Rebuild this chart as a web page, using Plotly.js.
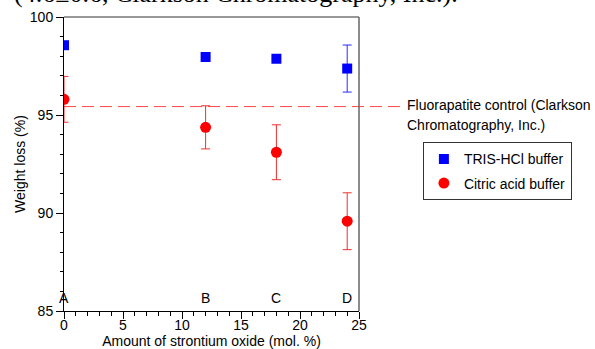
<!DOCTYPE html>
<html>
<head>
<meta charset="utf-8">
<script src="https://cdn.plot.ly/plotly-3.0.1.min.js"></script>
<style>html,body{margin:0;padding:0;background:#fff;}#chart{width:595px;height:349px;}</style>
</head>
<body>
<div id="chart"></div>
<script>
// Data
var strontium = [0, 12, 18, 24];
var sampleLabels = ['A', 'B', 'C', 'D'];
var trisLoss = [98.56, 97.96, 97.87, 97.37];
var trisErr = [0, 0, 0, 1.2];
var citricLoss = [95.80, 94.37, 93.10, 89.58];
var citricErr = [1.17, 1.1, 1.4, 1.45];
var fluorapatiteControl = 95.43;
var seriesNames = ['TRIS-HCl buffer', 'Citric acid buffer'];
var controlLabel = ['Fluorapatite control (Clarkson', 'Chromatography, Inc.)'];
var captionText = '(4.6\u00b10.6, Clarkson Chromatography, Inc.).';

var F = 'Liberation Sans, Arial, Helvetica, sans-serif';

var traces = [
  {
    x: strontium, y: trisLoss, name: seriesNames[0], type: 'scatter', mode: 'markers',
    legendgroup: 'g1',
    marker: {symbol: 'square', size: 10, color: '#0000ff'},
    error_y: {type: 'data', array: trisErr, visible: true, color: '#2a2aff', thickness: 1, width: 4.5}
  },
  {
    x: strontium, y: citricLoss, name: seriesNames[1], type: 'scatter', mode: 'markers',
    legendgroup: 'g2',
    marker: {symbol: 'circle', size: 11, color: '#ff0000'},
    error_y: {type: 'data', array: citricErr, visible: true, color: '#f03030', thickness: 1, width: 4.5}
  }
];

var annotations = strontium.map(function (v, i) {
  return {x: v, y: 85, xref: 'x', yref: 'y', text: sampleLabels[i], showarrow: false,
    yanchor: 'bottom', yshift: 3, font: {family: F, size: 14, color: '#000'}};
});
annotations.push({x: 405, y: 105, xref: 'paper', yref: 'paper', text: controlLabel[0], showarrow: false,
  xanchor: 'left', yanchor: 'middle', font: {family: F, size: 14, color: '#000'}});
annotations.push({x: 405, y: 125, xref: 'paper', yref: 'paper', text: controlLabel[1], showarrow: false,
  xanchor: 'left', yanchor: 'middle', font: {family: F, size: 14, color: '#000'}});
annotations.push({x: 11, y: 10, xref: 'paper', yref: 'paper', text: captionText, showarrow: false,
  xanchor: 'left', yanchor: 'bottom', font: {family: 'Liberation Serif, Times New Roman, serif', size: 26, color: '#000'}});

// convert pixel positions for paper-ref annotations
var L = 63.5, R = 359, T = 16.7, B = 310.7;
annotations.forEach(function (a) {
  if (a.xref === 'paper') {
    a.x = (a.x - L) / (R - L);
    a.y = (B - a.y) / (B - T);
  }
});

var layout = {
  width: 595, height: 349,
  margin: {l: L, r: 595 - R, t: T, b: 349 - B, pad: 0},
  paper_bgcolor: '#fff', plot_bgcolor: '#fff',
  font: {family: F, size: 14, color: '#000'},
  showlegend: true,
  legend: {
    x: (423 - L) / (R - L), y: (B - 142) / (B - T), xanchor: 'left', yanchor: 'top',
    bordercolor: '#333', borderwidth: 1, bgcolor: '#fff', tracegroupgap: 3,
    font: {family: F, size: 14, color: '#000'}
  },
  xaxis: {
    range: [0, 25], showgrid: false, zeroline: false, showline: true, linecolor: '#000', linewidth: 1,
    ticks: 'outside', ticklen: 7, tickwidth: 1, tickcolor: '#000', dtick: 5, tick0: 0,
    ticklabelstandoff: -6,
    minor: {ticks: 'outside', ticklen: 4, dtick: 1, tickcolor: '#000', tickwidth: 1, showgrid: false},
    tickfont: {family: F, size: 14}, fixedrange: true,
    title: {text: 'Amount of strontium oxide (mol. %)', font: {family: F, size: 14}, standoff: 5}
  },
  yaxis: {
    range: [85, 100], showgrid: false, zeroline: false, showline: true, linecolor: '#000', linewidth: 1,
    ticks: 'outside', ticklen: 7, tickwidth: 1, tickcolor: '#000', dtick: 5, tick0: 85,
    minor: {ticks: 'outside', ticklen: 3, dtick: 1, tickcolor: '#000', tickwidth: 1, showgrid: false},
    tickfont: {family: F, size: 14}, fixedrange: true,
    title: {text: 'Weight loss (%)', font: {family: F, size: 14}, standoff: 0}
  },
  yaxis2: {
    range: [85, 100], overlaying: 'y', anchor: 'x', side: 'left', showgrid: false, zeroline: false,
    showline: false, showticklabels: false, ticks: '', dtick: 5, tick0: 85,
    minor: {ticks: 'inside', ticklen: 3, dtick: 1, tickcolor: '#000', tickwidth: 1, showgrid: false},
    fixedrange: true
  },
  shapes: [
    {type: 'line', xref: 'paper', yref: 'y', x0: 0, x1: (400 - L) / (R - L), y0: fluorapatiteControl, y1: fluorapatiteControl,
      line: {color: 'rgba(255,40,40,0.85)', width: 1, dash: '12px,6px'}},
    {type: 'line', xref: 'paper', yref: 'paper', x0: 0, x1: 1, y0: 1, y1: 1, line: {color: '#333', width: 1}},
    {type: 'line', xref: 'paper', yref: 'paper', x0: 1, x1: 1, y0: 0, y1: 1, line: {color: '#666', width: 1.5}}
  ],
  annotations: annotations
};

Plotly.newPlot('chart', traces, layout, {staticPlot: true, displayModeBar: false});
</script>
</body>
</html>
